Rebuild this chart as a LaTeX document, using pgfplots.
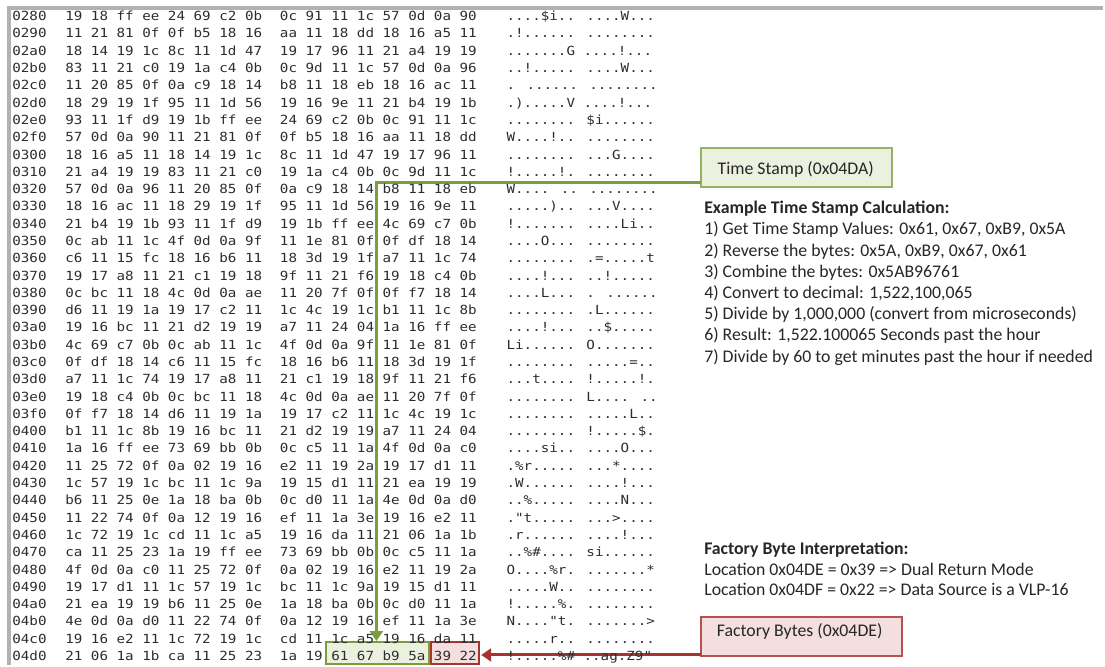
\documentclass[border=0pt]{standalone}
\usepackage{pgfplots}
\pgfplotsset{compat=1.18}
\usepackage{fontspec}
\usetikzlibrary{arrows.meta}
\setmainfont{Carlito}
\newfontfamily\hexfont[FakeStretch=1.13]{DejaVu Sans Mono}
\definecolor{tsgreen}{RGB}{122,158,58}
\definecolor{tsfill}{RGB}{235,241,222}
\definecolor{fbred}{RGB}{168,52,48}
\definecolor{fbfill}{RGB}{244,223,222}
\definecolor{dumptext}{RGB}{45,45,45}
\definecolor{notetext}{RGB}{38,38,38}
\tikzset{note/.style={anchor=base west, inner sep=0pt, text=notetext,
        font={\fontsize{8.9pt}{10pt}\selectfont}}}

\begin{document}
\begin{tikzpicture}
\begin{axis}[
    scale only axis, width=552.5pt, height=333pt,
    xmin=0, xmax=1105, ymin=0, ymax=666, y dir=reverse,
    axis lines=none, clip=false,
    hexcol/.style={only marks, mark=none, point meta=explicit symbolic,
        nodes near coords,
        nodes near coords style={anchor=base west, inner sep=0pt,
            font={\hexfont\fontsize{6.3pt}{7pt}\selectfont}, text=dumptext}},
]
\path (rel axis cs:0,0) rectangle (rel axis cs:1,1);

% boxes (behind the dump text)
\filldraw[fill=tsfill, draw=tsgreen!80, line width=1pt] (axis cs:702,148) rectangle (axis cs:893,187);
\filldraw[fill=fbfill, draw=fbred!85, line width=1pt] (axis cs:702,618) rectangle (axis cs:903,657);
\filldraw[fill=tsfill, draw=tsgreen, line width=1pt] (axis cs:327,643) rectangle (axis cs:430,665.5);
\filldraw[fill=fbfill, draw=fbred, line width=1pt] (axis cs:431.5,643) rectangle (axis cs:480,665.5);

% offsets
\addplot[hexcol] coordinates {
(12,20.7)[0280] (12,38.0)[0290] (12,55.3)[02a0] (12,72.7)[02b0] (12,90.0)[02c0]
(12,107.3)[02d0] (12,124.6)[02e0] (12,141.9)[02f0] (12,159.3)[0300] (12,176.6)[0310]
(12,193.9)[0320] (12,211.2)[0330] (12,228.5)[0340] (12,245.9)[0350] (12,263.2)[0360]
(12,280.5)[0370] (12,297.8)[0380] (12,315.1)[0390] (12,332.5)[03a0] (12,349.8)[03b0]
(12,367.1)[03c0] (12,384.4)[03d0] (12,401.7)[03e0] (12,419.1)[03f0] (12,436.4)[0400]
(12,453.7)[0410] (12,471.0)[0420] (12,488.3)[0430] (12,505.7)[0440] (12,523.0)[0450]
(12,540.3)[0460] (12,557.6)[0470] (12,574.9)[0480] (12,592.3)[0490] (12,609.6)[04a0]
(12,626.9)[04b0] (12,644.2)[04c0] (12,661.5)[04d0]
};

% bytes 0-7
\addplot[hexcol] coordinates {
(65,20.7)[19 18 ff ee 24 69 c2 0b]
(65,38.0)[11 21 81 0f 0f b5 18 16]
(65,55.3)[18 14 19 1c 8c 11 1d 47]
(65,72.7)[83 11 21 c0 19 1a c4 0b]
(65,90.0)[11 20 85 0f 0a c9 18 14]
(65,107.3)[18 29 19 1f 95 11 1d 56]
(65,124.6)[93 11 1f d9 19 1b ff ee]
(65,141.9)[57 0d 0a 90 11 21 81 0f]
(65,159.3)[18 16 a5 11 18 14 19 1c]
(65,176.6)[21 a4 19 19 83 11 21 c0]
(65,193.9)[57 0d 0a 96 11 20 85 0f]
(65,211.2)[18 16 ac 11 18 29 19 1f]
(65,228.5)[21 b4 19 1b 93 11 1f d9]
(65,245.9)[0c ab 11 1c 4f 0d 0a 9f]
(65,263.2)[c6 11 15 fc 18 16 b6 11]
(65,280.5)[19 17 a8 11 21 c1 19 18]
(65,297.8)[0c bc 11 18 4c 0d 0a ae]
(65,315.1)[d6 11 19 1a 19 17 c2 11]
(65,332.5)[19 16 bc 11 21 d2 19 19]
(65,349.8)[4c 69 c7 0b 0c ab 11 1c]
(65,367.1)[0f df 18 14 c6 11 15 fc]
(65,384.4)[a7 11 1c 74 19 17 a8 11]
(65,401.7)[19 18 c4 0b 0c bc 11 18]
(65,419.1)[0f f7 18 14 d6 11 19 1a]
(65,436.4)[b1 11 1c 8b 19 16 bc 11]
(65,453.7)[1a 16 ff ee 73 69 bb 0b]
(65,471.0)[11 25 72 0f 0a 02 19 16]
(65,488.3)[1c 57 19 1c bc 11 1c 9a]
(65,505.7)[b6 11 25 0e 1a 18 ba 0b]
(65,523.0)[11 22 74 0f 0a 12 19 16]
(65,540.3)[1c 72 19 1c cd 11 1c a5]
(65,557.6)[ca 11 25 23 1a 19 ff ee]
(65,574.9)[4f 0d 0a c0 11 25 72 0f]
(65,592.3)[19 17 d1 11 1c 57 19 1c]
(65,609.6)[21 ea 19 19 b6 11 25 0e]
(65,626.9)[4e 0d 0a d0 11 22 74 0f]
(65,644.2)[19 16 e2 11 1c 72 19 1c]
(65,661.5)[21 06 1a 1b ca 11 25 23]
};

% bytes 8-15
\addplot[hexcol] coordinates {
(280,20.7)[0c 91 11 1c 57 0d 0a 90]
(280,38.0)[aa 11 18 dd 18 16 a5 11]
(280,55.3)[19 17 96 11 21 a4 19 19]
(280,72.7)[0c 9d 11 1c 57 0d 0a 96]
(280,90.0)[b8 11 18 eb 18 16 ac 11]
(280,107.3)[19 16 9e 11 21 b4 19 1b]
(280,124.6)[24 69 c2 0b 0c 91 11 1c]
(280,141.9)[0f b5 18 16 aa 11 18 dd]
(280,159.3)[8c 11 1d 47 19 17 96 11]
(280,176.6)[19 1a c4 0b 0c 9d 11 1c]
(280,193.9)[0a c9 18 14 b8 11 18 eb]
(280,211.2)[95 11 1d 56 19 16 9e 11]
(280,228.5)[19 1b ff ee 4c 69 c7 0b]
(280,245.9)[11 1e 81 0f 0f df 18 14]
(280,263.2)[18 3d 19 1f a7 11 1c 74]
(280,280.5)[9f 11 21 f6 19 18 c4 0b]
(280,297.8)[11 20 7f 0f 0f f7 18 14]
(280,315.1)[1c 4c 19 1c b1 11 1c 8b]
(280,332.5)[a7 11 24 04 1a 16 ff ee]
(280,349.8)[4f 0d 0a 9f 11 1e 81 0f]
(280,367.1)[18 16 b6 11 18 3d 19 1f]
(280,384.4)[21 c1 19 18 9f 11 21 f6]
(280,401.7)[4c 0d 0a ae 11 20 7f 0f]
(280,419.1)[19 17 c2 11 1c 4c 19 1c]
(280,436.4)[21 d2 19 19 a7 11 24 04]
(280,453.7)[0c c5 11 1a 4f 0d 0a c0]
(280,471.0)[e2 11 19 2a 19 17 d1 11]
(280,488.3)[19 15 d1 11 21 ea 19 19]
(280,505.7)[0c d0 11 1a 4e 0d 0a d0]
(280,523.0)[ef 11 1a 3e 19 16 e2 11]
(280,540.3)[19 16 da 11 21 06 1a 1b]
(280,557.6)[73 69 bb 0b 0c c5 11 1a]
(280,574.9)[0a 02 19 16 e2 11 19 2a]
(280,592.3)[bc 11 1c 9a 19 15 d1 11]
(280,609.6)[1a 18 ba 0b 0c d0 11 1a]
(280,626.9)[0a 12 19 16 ef 11 1a 3e]
(280,644.2)[cd 11 1c a5 19 16 da 11]
(280,661.5)[1a 19 61 67 b9 5a 39 22]
};

% ascii
\addplot[hexcol] coordinates {
(507,20.7)[....\$i.. ....W...]
(507,38.0)[.!...... ........]
(507,55.3)[.......G ....!...]
(507,72.7)[..!..... ....W...]
(507,90.0)[. ...... ........]
(507,107.3)[.).....V ....!...]
(507,124.6)[........ \$i......]
(507,141.9)[W....!.. ........]
(507,159.3)[........ ...G....]
(507,176.6)[!.....!. ........]
(507,193.9)[W.... .. ........]
(507,211.2)[.....).. ...V....]
(507,228.5)[!....... ....Li..]
(507,245.9)[....O... ........]
(507,263.2)[........ .=.....t]
(507,280.5)[....!... ..!.....]
(507,297.8)[....L... . ......]
(507,315.1)[........ .L......]
(507,332.5)[....!... ..\$.....]
(507,349.8)[Li...... O.......]
(507,367.1)[........ .....=..]
(507,384.4)[...t.... !.....!.]
(507,401.7)[........ L.... ..]
(507,419.1)[........ .....L..]
(507,436.4)[........ !.....\$.]
(507,453.7)[....si.. ....O...]
(507,471.0)[.\%r..... ...*....]
(507,488.3)[.W...... ....!...]
(507,505.7)[..\%..... ....N...]
(507,523.0)[."t..... ...>....]
(507,540.3)[.r...... ....!...]
(507,557.6)[..\%\#.... si......]
(507,574.9)[O....\%r. .......*]
(507,592.3)[.....W.. ........]
(507,609.6)[!.....\%. ........]
(507,626.9)[N...."t. .......>]
(507,644.2)[.....r.. ........]
(507,661.5)[!.....\%\# ..ag.Z9"]
};

% frame of the dump window
\draw[gray!60, line width=1.75pt] (axis cs:9,666) -- (axis cs:9,8) -- (axis cs:1105,8);

% callout lines
\draw[tsgreen, line width=1.5pt, -{Triangle[length=5pt,width=6.5pt]}]
    (axis cs:702,183) -- (axis cs:377,183) -- (axis cs:377,642);
\draw[fbred, line width=1.5pt, -{Triangle[length=5pt,width=6.5pt]}]
    (axis cs:702,656) -- (axis cs:482,656);

% callout labels
\node[note, anchor=base] at (axis cs:797,175) {Time Stamp (0x04DA)};
\node[note, anchor=base] at (axis cs:801,637.3) {Factory Bytes (0x04DE)};

% notes
\node[note, font={\fontsize{8.9pt}{10pt}\selectfont\bfseries}] at (axis cs:705,214) {Example Time Stamp Calculation:};
\node[note] at (axis cs:705,235.2) {1) Get Time Stamp Values: 0x61, 0x67, 0xB9, 0x5A};
\node[note] at (axis cs:705,256.5) {2) Reverse the bytes: 0x5A, 0xB9, 0x67, 0x61};
\node[note] at (axis cs:705,277.7) {3) Combine the bytes: 0x5AB96761};
\node[note] at (axis cs:705,299.0) {4) Convert to decimal: 1,522,100,065};
\node[note] at (axis cs:705,320.2) {5) Divide by 1,000,000 (convert from microseconds)};
\node[note] at (axis cs:705,341.4) {6) Result: 1,522.100065 Seconds past the hour};
\node[note] at (axis cs:705,362.7) {7) Divide by 60 to get minutes past the hour if needed};

\node[note, font={\fontsize{8.9pt}{10pt}\selectfont\bfseries}] at (axis cs:705,555) {Factory Byte Interpretation:};
\node[note] at (axis cs:705,576) {Location 0x04DE = 0x39 => Dual Return Mode};
\node[note] at (axis cs:705,596.7) {Location 0x04DF = 0x22 => Data Source is a VLP-16};
\end{axis}
\end{tikzpicture}
\end{document}
